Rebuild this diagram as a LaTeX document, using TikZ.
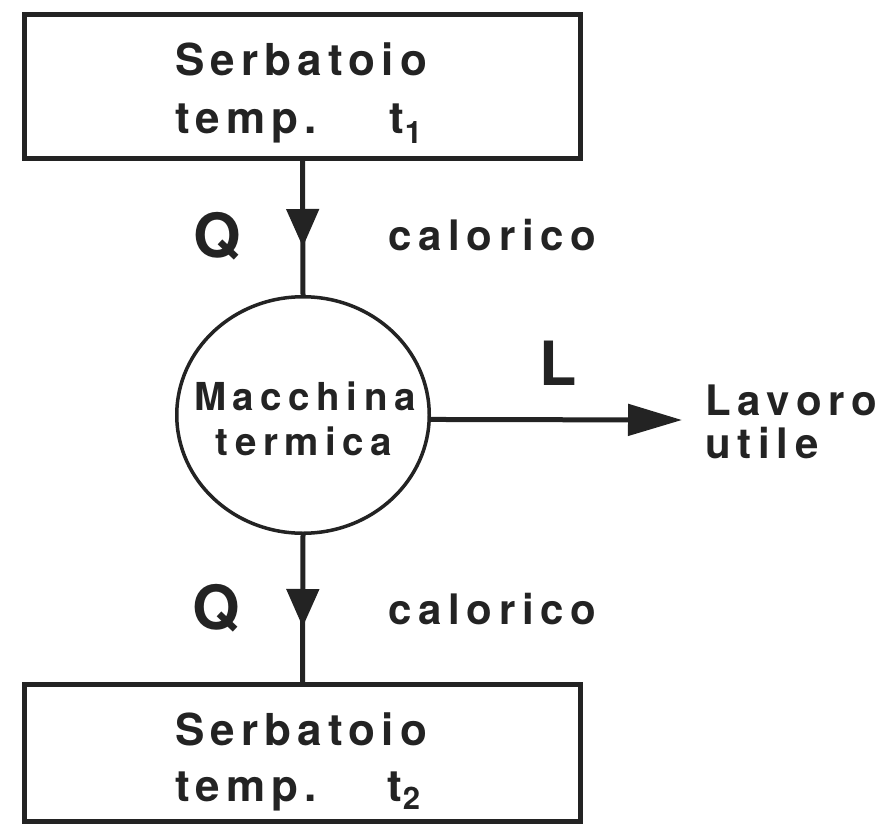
\documentclass[tikz,border=0pt]{standalone}
\usepackage{fontspec}
\setmainfont{TeX Gyre Heros}
\newfontfamily\tankfont[LetterSpace=14]{TeX Gyre Heros}
\newfontfamily\enginefont[LetterSpace=17]{TeX Gyre Heros}
\newfontfamily\sidefont[LetterSpace=16]{TeX Gyre Heros}
\usetikzlibrary{arrows.meta,shapes.geometric,decorations.markings}
\definecolor{ink}{RGB}{35,35,35}
\begin{document}
\begin{tikzpicture}[x=1pt,y=-1pt,
  tank/.style={draw=ink, line width=5pt, minimum width=556pt, inner sep=0pt},
  engine/.style={ellipse, draw=ink, line width=3.5pt, minimum width=252.5pt,
    minimum height=236.5pt, inner sep=0pt},
  flow/.style={draw=ink, line width=5pt},
  txt/.style={text=ink, inner sep=0pt, anchor=base west},
  tanktext/.style={txt, font={\tankfont\bfseries\fontsize{44pt}{48pt}\selectfont}},
  enginetext/.style={txt, anchor=base, font={\enginefont\bfseries\fontsize{38.5pt}{42pt}\selectfont}},
  sidetext/.style={txt, font={\sidefont\bfseries\fontsize{42pt}{46pt}\selectfont}},
  bigsym/.style={txt, font={\bfseries\fontsize{61pt}{64pt}\selectfont}},
  downhead/.style={postaction={decorate}, decoration={markings,
    mark=at position #1 with {\arrow{Triangle[length=38pt,width=32pt]}}}}
]
\useasboundingbox (0,0) rectangle (886,827);
\fill[white] (0,0) rectangle (886,827);

% hot reservoir, engine, cold reservoir
\node[tank, minimum height=144pt] (hot) at (302.5,86.5) {};
\node[engine] (eng) at (303,415) {};
\node[tank, minimum height=137pt] (cold) at (302.5,753) {};

% reservoir labels
\node[tanktext] (hot1) at (175,75) {Serbatoio};
\node[tanktext] (hot2) at (175,133) {temp.};
\node[tanktext] (hot3) at (389,133) {t\kern1pt{\fontsize{31pt}{31pt}\selectfont\raisebox{-10pt}{1}}};
\node[tanktext] (cold1) at (175,745) {Serbatoio};
\node[tanktext] (cold2) at (175,801) {temp.};
\node[tanktext] (cold3) at (387,801) {t\kern1pt{\fontsize{31pt}{31pt}\selectfont\raisebox{-8pt}{2}}};

% engine label
\node[enginetext] (eng1) at (305,410) {Macchina};
\node[enginetext] (eng2) at (304,455) {termica};

% heat flows
\draw[flow, downhead=86pt] (hot.south) -- (eng.north);
\draw[flow, downhead=92pt] (eng.south) -- (cold.north);
\node[bigsym] (q1) at (193,257) {Q};
\node[bigsym] (q2) at (192,629) {Q};
\node[sidetext] (c1) at (388,250) {calorico};
\node[sidetext] (c2) at (388,624) {calorico};

% work output
\coordinate (wend) at (682,420);
\draw[flow, -{Triangle[length=54pt,width=31pt]}] (eng.-2.3) -- (wend);
\node[bigsym] (lw) at (539,385) {L};
\node[sidetext] (w1) at (705,415) {Lavoro};
\node[sidetext] (w2) at (705,458) {utile};
\end{tikzpicture}
\end{document}
